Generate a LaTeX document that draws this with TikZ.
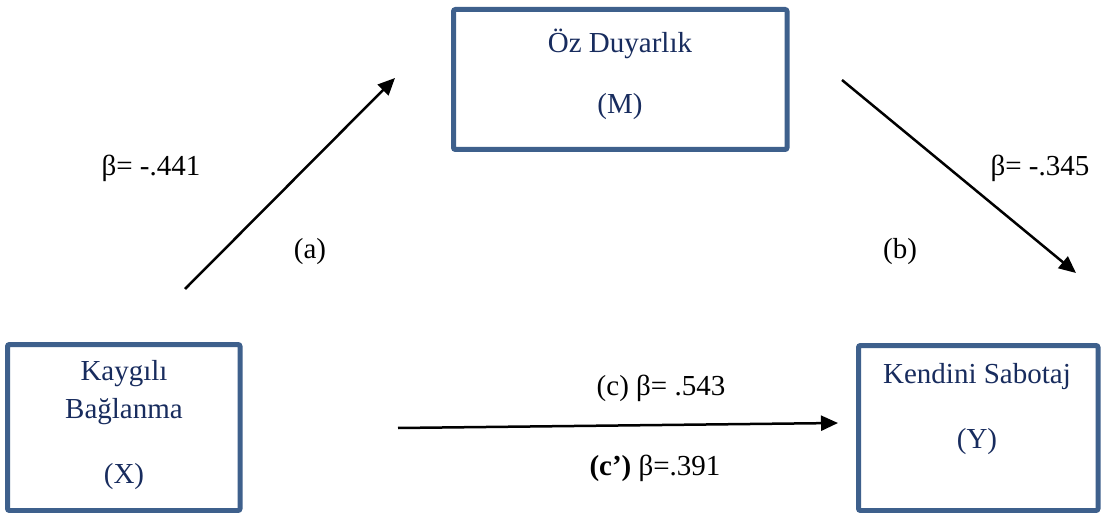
\documentclass[tikz,border=0pt]{standalone}
\usepackage{fontspec}
\setmainfont{Liberation Serif}
\usetikzlibrary{arrows.meta}
\definecolor{boxblue}{RGB}{62,96,140}
\definecolor{navy}{RGB}{24,44,94}
\tikzset{
  varbox/.style={draw=boxblue, line width=5pt, rounded corners=2pt, fill=white},
  vartext/.style={text=navy, font=\fontsize{29}{34}\selectfont, inner sep=0pt, anchor=center},
  lbl/.style={text=black, font=\fontsize{29}{34}\selectfont, inner sep=0pt, anchor=center},
  path arrow/.style={line width=2.5pt, -{Triangle[length=17pt,width=15pt]}}
}
\begin{document}
\begin{tikzpicture}[x=1pt,y=-1pt]
\useasboundingbox (0,0) rectangle (1101,513);
% boxes
\draw[varbox] (453.5,9.5) rectangle (787,149.5);
\draw[varbox] (7.5,344.5) rectangle (240,510.5);
\draw[varbox] (858.5,345.5) rectangle (1098,510.5);
% box texts
\node[vartext] (mname) at (620,44) {Öz Duyarlık};
\node[vartext] (mletter) at (620,107) {(M)};
\node[vartext] (xname1) at (124,374) {Kaygılı};
\node[vartext] (xname2) at (124,412) {Bağlanma};
\node[vartext] (xletter) at (124,477) {(X)};
\node[vartext] (yname) at (977,377) {Kendini Sabotaj};
\node[vartext] (yletter) at (977,442) {(Y)};
% labels
\node[lbl] (la) at (151,168) {β= -.441};
\node[lbl] (pa) at (310,252) {(a)};
\node[lbl] (lb) at (1040,168) {β= -.345};
\node[lbl] (pb) at (900,252) {(b)};
\node[lbl] (lc) at (661,388) {(c) β= .543};
\node[lbl] (lcp) at (655,468) {\textbf{(c’)} β=.391};
% arrows
\coordinate (as) at (185,289);
\coordinate (ae) at (395,78);
\coordinate (bs) at (842,80);
\coordinate (be) at (1076,273);
\coordinate (cs) at (398,428);
\coordinate (ce) at (838,423);
\draw[path arrow] (as) -- (ae);
\draw[path arrow] (bs) -- (be);
\draw[path arrow] (cs) -- (ce);
\end{tikzpicture}
\end{document}
